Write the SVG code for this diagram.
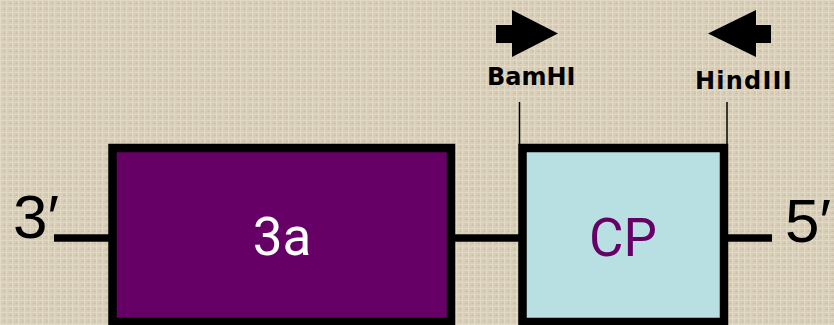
<svg xmlns="http://www.w3.org/2000/svg" width="834" height="325" viewBox="0 0 834 325">
<defs>
<pattern id="linen" width="6" height="6" patternUnits="userSpaceOnUse">
<rect width="6" height="6" fill="#d8cdb7"/>
<rect x="0" y="0" width="6" height="1" fill="#e6ddca" opacity="0.7"/>
<rect x="0" y="0" width="1" height="6" fill="#e9e1cf" opacity="0.6"/>
<rect x="3" y="3" width="3" height="1" fill="#c6baa2" opacity="0.6"/>
<rect x="4" y="1" width="1" height="3" fill="#c9bea7" opacity="0.5"/>
</pattern>
<style>
.box{stroke:#000;stroke-width:8.5}
.strand{stroke:#000;stroke-width:7.5;fill:none}
.tick{stroke:#000;stroke-width:1.5}
.end{font-family:"Liberation Sans",Arial,sans-serif;font-size:62px;fill:#000}
.site{font-family:"DejaVu Sans",Verdana,sans-serif;font-weight:bold;font-size:24px;fill:#000}
.lbl{font-family:Roboto,"Liberation Sans",sans-serif;font-size:53px}
</style>
</defs>
<rect width="834" height="325" fill="url(#linen)"/>
<g id="connectors">
<line class="strand" x1="54" y1="238" x2="112" y2="238"/>
<line class="strand" x1="451" y1="238" x2="522" y2="238"/>
<line class="strand" x1="724" y1="238" x2="772" y2="238"/>
<line class="tick" x1="519.5" y1="102" x2="519.5" y2="145"/>
<line class="tick" x1="727" y1="102" x2="727" y2="145"/>
</g>
<g id="end3">
<text class="end" x="13" y="238">3′</text>
</g>
<g id="end5">
<text class="end" x="785" y="242">5′</text>
</g>
<g id="node-3a">
<rect class="box" x="112.5" y="148" width="338.5" height="174" fill="#660066"/>
<text class="lbl" x="282" y="255" text-anchor="middle" fill="#ffffff">3a</text>
</g>
<g id="node-CP">
<rect class="box" x="522.5" y="148" width="201.5" height="174" fill="#b8dfe2"/>
<text class="lbl" x="623" y="256" text-anchor="middle" fill="#660066">CP</text>
</g>
<g id="BamHI">
<polygon points="496,25 512,25 512,10 558,33.5 512,57 512,43 496,43" fill="#000"/>
<text class="site" x="487" y="85">BamHI</text>
</g>
<g id="HindIII">
<polygon points="771,25 756,25 756,10 708,33.5 756,57 756,43 771,43" fill="#000"/>
<text class="site" x="695" y="89" letter-spacing="1.2">HindIII</text>
</g>
</svg>
